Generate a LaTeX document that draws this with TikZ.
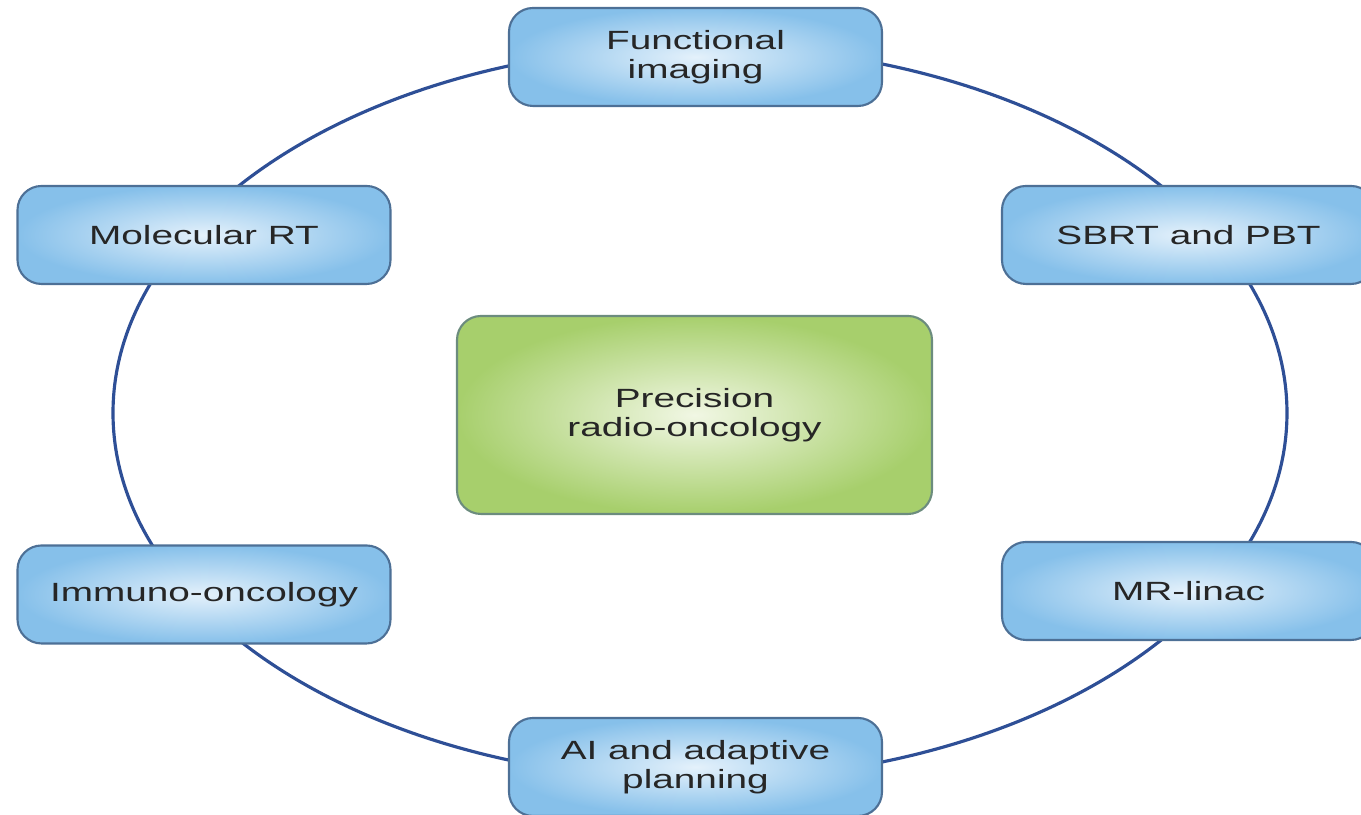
\documentclass[tikz,border=0pt]{standalone}
\usepackage{fontspec}
\setmainfont{Liberation Sans}[FakeStretch=1.47]

\definecolor{ringblue}{HTML}{2E4F96}
\definecolor{boxblue}{HTML}{86C0EA}
\definecolor{boxblueinner}{HTML}{E4F1FB}
\definecolor{boxline}{HTML}{4D7096}
\definecolor{coregreen}{HTML}{A7CF6C}
\definecolor{coregreeninner}{HTML}{F1F7E4}
\definecolor{coreline}{HTML}{6C8C7E}

\begin{document}
\begin{tikzpicture}

      %box styles
      \tikzset{
      topic/.style={draw=boxline, line width=0.6pt, rounded corners=0.24cm,
        inner color=boxblueinner, outer color=boxblue,
        minimum width=3.73cm, minimum height=0.98cm, align=center,
        text=black!85, font=\fontsize{7.5}{8.3}\selectfont},
      core/.style={topic, draw=coreline,
        inner color=coregreeninner, outer color=coregreen,
        minimum width=4.75cm, minimum height=1.98cm},
      }

      \useasboundingbox (0,0) rectangle (13.61,8.15);

      %ring
      \coordinate (hub) at (7.00,4.02);
      \draw[ringblue, line width=0.9pt] (hub) ellipse [x radius=5.87, y radius=3.67];

      %centre
      \node[core] (precision) at (6.945,4.00) {Precision\\radio-oncology};

      %around the ring
      \node[topic] (func) at (6.955,7.58) {Functional\\imaging};
      \node[topic] (sbrt) at (11.885,5.80) {SBRT and PBT};
      \node[topic] (mrlinac) at (11.885,2.24) {MR-linac};
      \node[topic] (aiplan) at (6.955,0.48) {AI and adaptive\\planning};
      \node[topic] (immuno) at (2.04,2.205) {Immuno-oncology};
      \node[topic] (molrt) at (2.04,5.80) {Molecular RT};

\end{tikzpicture}
\end{document}
